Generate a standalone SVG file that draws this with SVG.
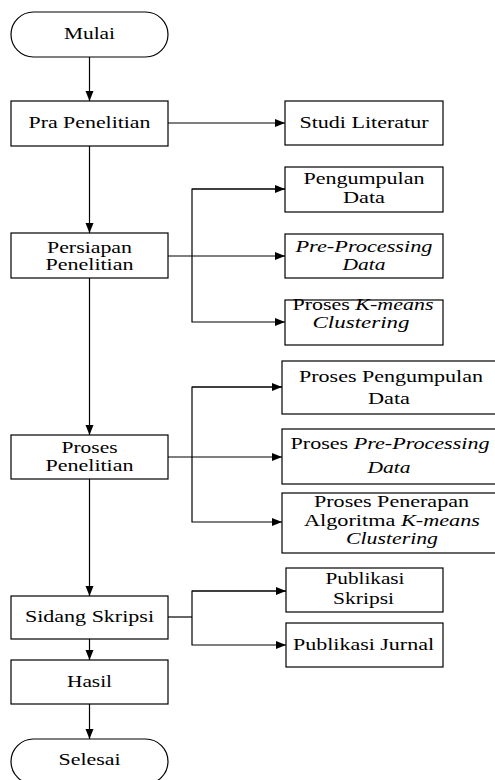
<svg xmlns="http://www.w3.org/2000/svg" width="495" height="780" viewBox="0 0 495 780">
<style>
.box{fill:#fff;stroke:#000;stroke-width:1.2}
text{font-family:'Liberation Serif','Times New Roman',Times,'DejaVu Serif',serif;font-size:16px;fill:#000;text-anchor:middle}
.i{font-style:italic}
.c{fill:none;stroke:#000;stroke-width:1.2}
</style>
<defs>
<marker id="ah" markerUnits="userSpaceOnUse" markerWidth="11" markerHeight="9" refX="10" refY="4" orient="auto">
<path d="M0,0 L10,4 L0,8 z" fill="#000"/>
</marker>
</defs>
<rect width="495" height="780" fill="#fff"/>
<g id="connectors">
<line class="c" x1="89.5" y1="57" x2="89.5" y2="101" marker-end="url(#ah)"/>
<line class="c" x1="168" y1="123" x2="285" y2="123" marker-end="url(#ah)"/>
<line class="c" x1="89.5" y1="146" x2="89.5" y2="233" marker-end="url(#ah)"/>
<line class="c" x1="168" y1="256" x2="285" y2="256" marker-end="url(#ah)"/>
<polyline class="c" points="285,189 192,189 192,322 285,322" marker-end="url(#ah)"/>
<line class="c" x1="192" y1="189" x2="285" y2="189" marker-end="url(#ah)"/>
<line class="c" x1="89.5" y1="278" x2="89.5" y2="435" marker-end="url(#ah)"/>
<line class="c" x1="168" y1="457" x2="282" y2="457" marker-end="url(#ah)"/>
<polyline class="c" points="282,387 192,387 192,522 282,522" marker-end="url(#ah)"/>
<line class="c" x1="192" y1="387" x2="282" y2="387" marker-end="url(#ah)"/>
<line class="c" x1="89.5" y1="479" x2="89.5" y2="596" marker-end="url(#ah)"/>
<polyline class="c" points="168,617 192,617"/>
<polyline class="c" points="286,591 192,591 192,645 286,645" marker-end="url(#ah)"/>
<line class="c" x1="192" y1="591" x2="286" y2="591" marker-end="url(#ah)"/>
<line class="c" x1="89.5" y1="639" x2="89.5" y2="660" marker-end="url(#ah)"/>
<line class="c" x1="89.5" y1="704" x2="89.5" y2="739" marker-end="url(#ah)"/>
</g>
<g id="mulai"><rect class="box" x="11" y="12" width="157" height="45" rx="22.5" ry="22.5"/><text x="89.5" y="39" textLength="51" lengthAdjust="spacingAndGlyphs">Mulai</text></g>
<g id="pra"><rect class="box" x="11" y="101" width="157" height="45"/><text x="89.5" y="128" textLength="122" lengthAdjust="spacingAndGlyphs">Pra Penelitian</text></g>
<g id="studi"><rect class="box" x="285" y="101" width="158" height="44"/><text x="364" y="128" textLength="129" lengthAdjust="spacingAndGlyphs">Studi Literatur</text></g>
<g id="persiapan"><rect class="box" x="11" y="233" width="157" height="45"/><text x="89.5" y="252.5" textLength="85" lengthAdjust="spacingAndGlyphs">Persiapan</text><text x="89.5" y="270" textLength="88" lengthAdjust="spacingAndGlyphs">Penelitian</text></g>
<g id="pengumpulan"><rect class="box" x="285" y="167" width="158" height="45"/><text x="364" y="184" textLength="121" lengthAdjust="spacingAndGlyphs">Pengumpulan</text><text x="364" y="203" textLength="42" lengthAdjust="spacingAndGlyphs">Data</text></g>
<g id="preprocessing"><rect class="box" x="285" y="234" width="158" height="44"/><text class="i" x="364" y="252" textLength="137" lengthAdjust="spacingAndGlyphs">Pre-Processing</text><text class="i" x="364" y="270" textLength="43" lengthAdjust="spacingAndGlyphs">Data</text></g>
<g id="kmeans"><rect class="box" x="285" y="300" width="158" height="45"/><text x="363" y="310" textLength="141" lengthAdjust="spacingAndGlyphs">Proses <tspan class="i">K-means</tspan></text><text class="i" x="361" y="328" textLength="97" lengthAdjust="spacingAndGlyphs">Clustering</text></g>
<g id="proses"><rect class="box" x="11" y="435" width="157" height="44"/><text x="89.5" y="453" textLength="56" lengthAdjust="spacingAndGlyphs">Proses</text><text x="89.5" y="471" textLength="88" lengthAdjust="spacingAndGlyphs">Penelitian</text></g>
<g id="proses-pengumpulan"><rect class="box" x="282" y="361" width="216" height="53"/><text x="391" y="382" textLength="184" lengthAdjust="spacingAndGlyphs">Proses Pengumpulan</text><text x="389" y="404" textLength="42" lengthAdjust="spacingAndGlyphs">Data</text></g>
<g id="proses-preprocessing"><rect class="box" x="282" y="429" width="216" height="55"/><text x="390" y="449" textLength="199" lengthAdjust="spacingAndGlyphs">Proses <tspan class="i">Pre-Processing</tspan></text><text class="i" x="389" y="473" textLength="43" lengthAdjust="spacingAndGlyphs">Data</text></g>
<g id="proses-penerapan"><rect class="box" x="282" y="493" width="216" height="60"/><text x="391.5" y="507" textLength="155" lengthAdjust="spacingAndGlyphs">Proses Penerapan</text><text x="392" y="526" textLength="176" lengthAdjust="spacingAndGlyphs">Algoritma <tspan class="i">K-means</tspan></text><text class="i" x="392" y="544" textLength="92" lengthAdjust="spacingAndGlyphs">Clustering</text></g>
<g id="sidang"><rect class="box" x="11" y="596" width="157" height="43"/><text x="89.5" y="622" textLength="129" lengthAdjust="spacingAndGlyphs">Sidang Skripsi</text></g>
<g id="publikasi-skripsi"><rect class="box" x="286" y="568" width="157" height="44"/><text x="365" y="584" textLength="79" lengthAdjust="spacingAndGlyphs">Publikasi</text><text x="363.5" y="604" textLength="61" lengthAdjust="spacingAndGlyphs">Skripsi</text></g>
<g id="publikasi-jurnal"><rect class="box" x="286" y="623" width="157" height="44"/><text x="363.5" y="650" textLength="141" lengthAdjust="spacingAndGlyphs">Publikasi Jurnal</text></g>
<g id="hasil"><rect class="box" x="11" y="660" width="157" height="44"/><text x="89.5" y="687" textLength="45" lengthAdjust="spacingAndGlyphs">Hasil</text></g>
<g id="selesai"><rect class="box" x="11" y="739" width="157" height="45" rx="22.5" ry="22.5"/><text x="89.5" y="765" textLength="62" lengthAdjust="spacingAndGlyphs">Selesai</text></g>
</svg>
